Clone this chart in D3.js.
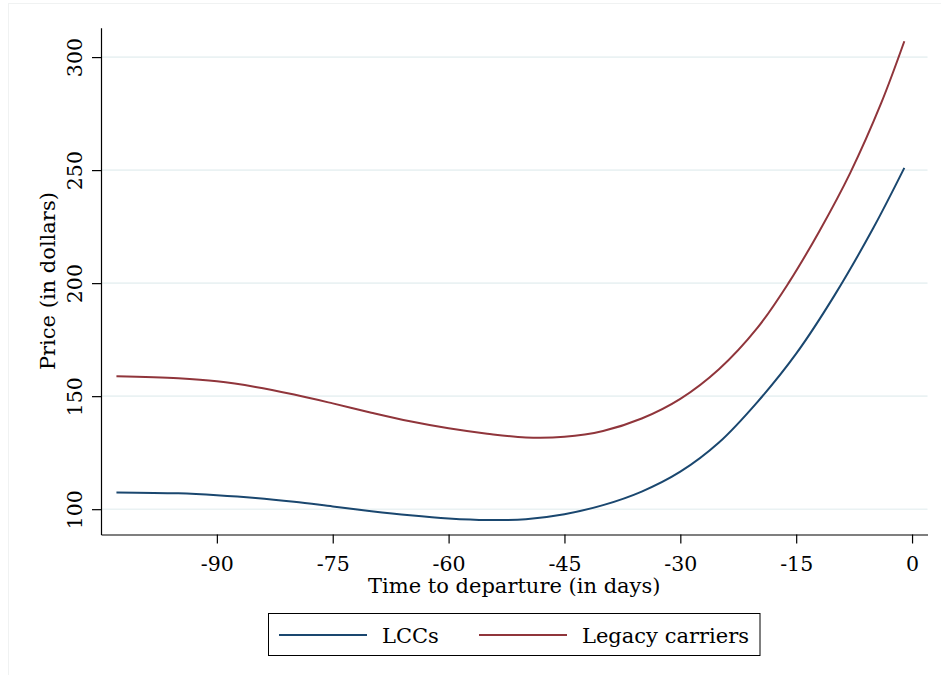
<!DOCTYPE html>
<html>
<head>
<meta charset="utf-8">
<script src="https://cdn.jsdelivr.net/npm/d3@7/dist/d3.min.js"></script>
<style>
  html, body { margin: 0; padding: 0; background: #ffffff; }
  svg { display: block; }
  text { font-family: "DejaVu Serif", "Liberation Serif", serif; fill: #000; }
</style>
</head>
<body>
<svg id="chart" width="941" height="675"></svg>
<script>
// ---- data ----
const lccDays    = [-103, -95, -90, -85, -80, -75, -70, -65, -60, -55, -50, -45, -40, -35, -30, -25, -20, -15, -10, -5, -1];
const lccPrice   = [107.4, 107.0, 106.2, 105.0, 103.3, 101.2, 99.1, 97.3, 95.9, 95.2, 95.6, 97.8, 101.8, 107.8, 116.6, 129.5, 147.5, 168.8, 194.8, 224.5, 251.0];
const legacyDays  = [-103, -95, -90, -85, -80, -75, -70, -65, -60, -55, -50, -45, -40, -35, -30, -25, -20, -16, -12, -8, -4, -1];
const legacyPrice = [158.8, 157.9, 156.6, 154.1, 150.7, 146.8, 142.7, 138.9, 135.8, 133.4, 131.7, 132.0, 134.6, 140.1, 148.8, 161.9, 180.3, 200.0, 223.0, 248.8, 279.6, 307.0];
const xTicks = [-90, -75, -60, -45, -30, -15, 0];
const yTicks = [100, 150, 200, 250, 300];
const seriesNames = ["LCCs", "Legacy carriers"];
const seriesColors = ["#1a476f", "#90353b"];
const xTitle = "Time to departure (in days)";
const yTitle = "Price (in dollars)";

const svg = d3.select("#chart");
const FS = 21;      // titles / legend
const TFS = 20.5;   // tick labels
const FONT = '"DejaVu Serif", serif';

// outer faint frame
svg.append("rect").attr("x", 8.5).attr("y", 3.5).attr("width", 1000).attr("height", 1000)
  .attr("fill", "#ffffff").attr("stroke", "#f0f2f2").attr("stroke-width", 1);

const x = d3.scaleLinear().domain([-105, 2]).range([101, 927.5]);
const y = d3.scaleLinear().domain([88.8, 313]).range([534.5, 27.7]);

// grid lines
svg.append("g").selectAll("line").data(yTicks).join("line")
  .attr("x1", x(-105)).attr("x2", x(2))
  .attr("y1", d => y(d)).attr("y2", d => y(d))
  .attr("stroke", "#eaf2f3").attr("stroke-width", 1.6);

// x axis
const xAxis = d3.axisBottom(x).tickValues(xTicks).tickSize(9).tickSizeOuter(0).tickFormat(d => String(d));
const gx = svg.append("g").attr("transform", `translate(0,${y(88.8)})`).call(xAxis);
gx.select(".domain").attr("stroke", "#000").attr("stroke-width", 1.2);
gx.selectAll(".tick line").attr("stroke", "#000").attr("stroke-width", 1.2);
gx.selectAll(".tick text").style("font-size", TFS + "px").style("font-family", FONT)
  .attr("y", 36.5).attr("dy", 0);

// y axis
const yAxis = d3.axisLeft(y).tickValues(yTicks).tickSize(9).tickSizeOuter(0).tickFormat(d => String(d));
const gy = svg.append("g").attr("transform", `translate(${x(-105)},0)`).call(yAxis);
gy.select(".domain").attr("stroke", "#000").attr("stroke-width", 1.2);
gy.selectAll(".tick line").attr("stroke", "#000").attr("stroke-width", 1.2);
gy.selectAll(".tick text")
  .style("font-size", TFS + "px").style("font-family", FONT)
  .attr("text-anchor", "middle").attr("dy", 0).attr("x", null)
  .attr("transform", "translate(-19,0) rotate(-90)");

// axis titles
svg.append("text").attr("x", (x(-105) + x(2)) / 2).attr("y", 593)
  .attr("text-anchor", "middle").style("font-size", FS + "px").text(xTitle);
svg.append("text").attr("transform", `translate(55,${(y(88.8) + y(313)) / 2}) rotate(-90)`)
  .attr("text-anchor", "middle").style("font-size", FS + "px").text(yTitle);

// lines
const line = d3.line().x(d => x(d[0])).y(d => y(d[1])).curve(d3.curveCatmullRom.alpha(0.5));
const series = [
  d3.zip(lccDays, lccPrice),
  d3.zip(legacyDays, legacyPrice)
];
svg.append("g").selectAll("path").data(series).join("path")
  .attr("d", line).attr("fill", "none")
  .attr("stroke", (d, i) => seriesColors[i]).attr("stroke-width", 2)
  .attr("stroke-linejoin", "round");

// legend
const lg = svg.append("g");
lg.append("rect").attr("x", 268.5).attr("y", 613.5).attr("width", 491.5).attr("height", 42)
  .attr("fill", "#fff").attr("stroke", "#000").attr("stroke-width", 1);
const legendItems = [
  { lx1: 279, lx2: 367, tx: 382 },
  { lx1: 479, lx2: 567, tx: 582 }
];
legendItems.forEach((it, i) => {
  lg.append("line").attr("x1", it.lx1).attr("x2", it.lx2).attr("y1", 635).attr("y2", 635)
    .attr("stroke", seriesColors[i]).attr("stroke-width", 2);
  lg.append("text").attr("x", it.tx).attr("y", 642.5).style("font-size", FS + "px").text(seriesNames[i]);
});
</script>
</body>
</html>
